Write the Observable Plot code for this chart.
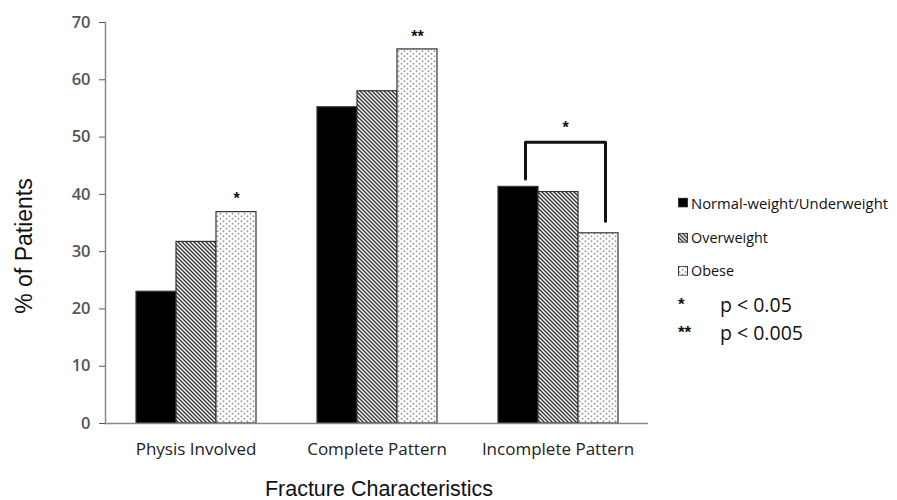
<!DOCTYPE html>
<html>
<head>
<meta charset="utf-8">
<script src="https://cdn.jsdelivr.net/npm/d3@7"></script>
<script src="https://cdn.jsdelivr.net/npm/@observablehq/plot@0.6"></script>
<style>
  body { margin: 0; background: #fff; }
  #wrap { position: relative; width: 897px; height: 500px; font-family: "Open Sans", sans-serif; color: #111; }
  .abs { position: absolute; white-space: nowrap; line-height: 1; }
  .ytitle { left: 24px; top: 246px; transform: translate(-50%, -50%) rotate(-90deg); font-family: "Liberation Sans", Arial, sans-serif; font-size: 23px; color: #111; }
  .xtitle { left: 379px; top: 490px; transform: translate(-50%, -50%); font-family: "Liberation Sans", Arial, sans-serif; font-size: 21.5px; color: #111; }
  .leg { display: flex; align-items: center; transform: translateY(-50%); }
  .leg svg { margin-right: 3px; }
</style>
</head>
<body>
<div id="wrap"></div>
<script>
// ---- data ----
const categories = ["Physis Involved", "Complete Pattern", "Incomplete Pattern"];
const groups = ["Normal-weight/Underweight", "Overweight", "Obese"];
const normalWeight = [23.0, 55.2, 41.3];
const overweight = [31.7, 58.0, 40.4];
const obese = [36.9, 65.3, 33.2];
const yTicks = [0, 10, 20, 30, 40, 50, 60, 70];
// significance stars above bars
const starCategories = ["Physis Involved", "Complete Pattern"];
const starGroups = ["Obese", "Obese"];
const starValues = [36.9, 65.3];
const starLabels = ["*", "**"];
// bracket on Incomplete Pattern (Normal vs Obese)
const bracketCategory = "Incomplete Pattern";
const bracketGroups = ["Normal-weight/Underweight", "Normal-weight/Underweight", "Obese", "Obese"];
const bracketValues = [42.7, 49.1, 49.1, 35.3];
const bracketLabel = "*";
const legendPValues = [["*", "p < 0.05"], ["**", "p < 0.005"]];

// ---- tables ----
const seriesByGroup = [normalWeight, overweight, obese];
const table = [];
categories.forEach((c, i) => groups.forEach((g, j) => table.push({category: c, group: g, value: seriesByGroup[j][i]})));
const stars = starCategories.map((c, i) => ({category: c, group: starGroups[i], value: starValues[i], label: starLabels[i]}));
const bracket = bracketGroups.map((g, i) => ({category: bracketCategory, group: g, value: bracketValues[i]}));
const bracketStar = [{category: bracketCategory, group: groups[1], value: bracketValues[1], label: bracketLabel}];

const fills = ["#000", "url(#hatchPat)", "url(#dotPat)"];

function defs() {
  const d = d3.create("svg:defs");
  const h = d.append("pattern").attr("id", "hatchPat").attr("patternUnits", "userSpaceOnUse").attr("width", 4).attr("height", 4);
  h.append("rect").attr("width", 4).attr("height", 4).attr("fill", "#f4f4f4");
  h.append("path").attr("d", "M-1,-1 L5,5 M-1,3 L1,5 M3,-1 L5,1").attr("stroke", "#333").attr("stroke-width", 1.3);
  const p = d.append("pattern").attr("id", "dotPat").attr("patternUnits", "userSpaceOnUse").attr("width", 6).attr("height", 5);
  p.append("rect").attr("width", 6).attr("height", 5).attr("fill", "#fff");
  p.append("circle").attr("cx", 1.5).attr("cy", 1.2).attr("r", 0.95).attr("fill", "#999");
  p.append("circle").attr("cx", 4.5).attr("cy", 3.7).attr("r", 0.95).attr("fill", "#999");
  return d.node();
}

const chart = Plot.plot({
  width: 897,
  height: 500,
  marginLeft: 105,
  marginRight: 249,
  marginTop: 22,
  marginBottom: 77,
  style: {fontFamily: "Open Sans, sans-serif", background: "#fff"},
  fx: {domain: categories, padding: 0, label: null},
  x: {domain: groups, paddingInner: 0, paddingOuter: 0.75, axis: null},
  y: {domain: [0, 70], label: null},
  color: {domain: groups, range: fills},
  marks: [
    defs,
    Plot.barY(table, {fx: "category", x: "group", y: "value", fill: "group", stroke: "#333", strokeWidth: 1.2}),
    Plot.ruleY([0], {stroke: "#888", strokeWidth: 1.5}),
    Plot.frame({anchor: "left", facetAnchor: "left", stroke: "#888", strokeWidth: 1.5}),
    Plot.axisY({ticks: yTicks, tickSize: 6, tickPadding: 9, fontSize: 16.5, fontWeight: 600, color: "#555", label: null}),
    Plot.axisFx({anchor: "bottom", tickSize: 0, tickPadding: 19, fontSize: 17, color: "#222", label: null}),
    Plot.text(stars, {fx: "category", x: "group", y: "value", text: "label", dy: -13, fontSize: 16, fontWeight: "bold", fontFamily: "Liberation Sans, Arial, sans-serif", fill: "#111"}),
    Plot.line(bracket, {fx: "category", x: "group", y: "value", dx: 7, stroke: "#111", strokeWidth: 3}),
    Plot.text(bracketStar, {fx: "category", x: "group", y: "value", text: "label", dx: 7, dy: -14, fontSize: 16, fontWeight: "bold", fontFamily: "Liberation Sans, Arial, sans-serif", fill: "#111"})
  ]
});

const wrap = document.getElementById("wrap");
wrap.appendChild(chart);

function addDiv(cls, html, left, top, extra) {
  const el = document.createElement("div");
  el.className = "abs " + cls;
  el.innerHTML = html;
  if (left != null) el.style.left = left + "px";
  if (top != null) el.style.top = top + "px";
  if (extra) Object.assign(el.style, extra);
  wrap.appendChild(el);
  return el;
}
addDiv("ytitle", "% of Patients");
addDiv("xtitle", "Fracture Characteristics");

// legend
const legTops = [203, 238, 271];
const legSizes = [14.8, 14.4, 14.4];
groups.forEach((g, i) => {
  const sw = `<svg width="10" height="10"><rect x="0.5" y="0.5" width="9" height="9" fill="${fills[i]}" stroke="#333" stroke-width="1"/></svg>`;
  addDiv("leg", sw + `<span>${g}</span>`, 678, legTops[i], {fontSize: legSizes[i] + "px"});
});
const pTops = [305, 333];
legendPValues.forEach(([s, t], i) => {
  addDiv("leg", s, 678, pTops[i] - 1, {fontSize: "17px", fontWeight: "bold", fontFamily: "Liberation Sans, Arial, sans-serif"});
  addDiv("leg", t, 720, pTops[i], {fontSize: "19.5px"});
});
</script>
</body>
</html>
